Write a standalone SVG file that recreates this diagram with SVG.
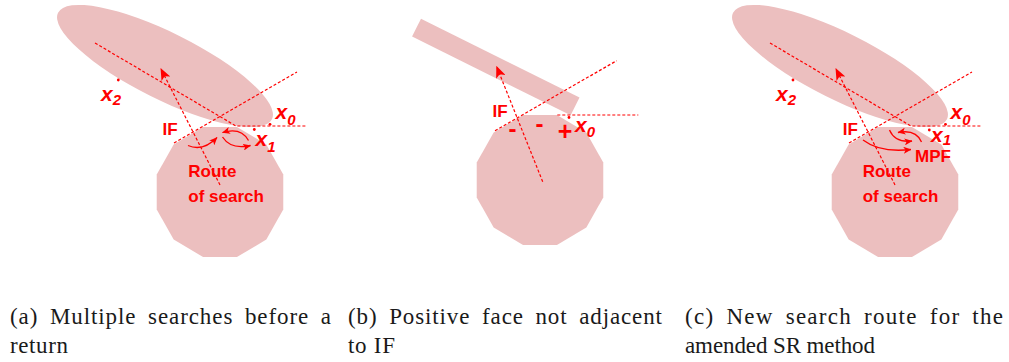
<svg xmlns="http://www.w3.org/2000/svg" width="1009" height="362" viewBox="0 0 1009 362">
<style>
.shape{fill:#ecbfbf}
.dash{fill:none;stroke:#ff0000;stroke-width:1.2;stroke-dasharray:3 2}
.curve{fill:none;stroke:#ff0000;stroke-width:1.3}
.lbl{font-family:"Liberation Sans",Arial,sans-serif;font-weight:bold;fill:#ff0000;font-size:17px}
.var{font-family:"Liberation Sans",Arial,sans-serif;font-weight:bold;font-style:italic;fill:#ff0000;font-size:21px}
.sub{font-size:15px}
.pt{fill:#ff0000}
.cap{font-family:"Liberation Serif","Times New Roman",serif;font-size:23px;fill:#1a1a1a}
.just{word-spacing:5px}
</style>
<defs>
<polygon id="dodeca" points="63.27,17.42 46.32,47.59 16.95,65 -16.95,65 -46.32,47.59 -63.27,17.42 -63.27,-17.42 -46.32,-47.59 -16.95,-65 16.95,-65 46.32,-47.59 63.27,-17.42"/>
<marker id="bigHead" viewBox="0 0 12 10" refX="11" refY="5" markerWidth="12" markerHeight="10" markerUnits="userSpaceOnUse" orient="auto">
<path d="M0,0 L12,5 L0,10 L3,5 Z" fill="#ff0000"/>
</marker>
<marker id="smallHead" viewBox="0 0 8 7" refX="7.5" refY="3.5" markerWidth="8" markerHeight="7" markerUnits="userSpaceOnUse" orient="auto">
<path d="M0,0 L8,3.5 L0,7 L2,3.5 Z" fill="#ff0000"/>
</marker>
</defs>

<!-- Panel (a) -->
<g id="a-ellipse"><ellipse class="shape" cx="165" cy="66" rx="119.5" ry="33.3" transform="rotate(26.5 165 66)"/></g>
<g id="a-polygon"><use href="#dodeca" class="shape" x="220" y="192"/></g>

<!-- Panel (b) -->
<g id="b-rect"><rect class="shape" x="-88.5" y="-10" width="177" height="20" transform="translate(495.8,67) rotate(26.4)"/></g>
<g id="b-polygon"><use href="#dodeca" class="shape" x="540" y="180"/></g>

<!-- Panel (c) -->
<g id="c-ellipse"><ellipse class="shape" cx="840" cy="66" rx="119.5" ry="33.3" transform="rotate(26.5 840 66)"/></g>
<g id="c-polygon"><use href="#dodeca" class="shape" x="895" y="192"/></g>

<g id="connectors">
<!-- a -->
<polyline class="dash" points="95,43 236,126 307,126"/>
<line class="dash" x1="174" y1="143" x2="297" y2="72"/>
<line class="dash" x1="220" y1="185" x2="161" y2="69" marker-end="url(#bigHead)"/>
<path class="curve" d="M188,145.5 Q203,152 217,137.5" marker-end="url(#smallHead)"/>
<path class="curve" d="M248.5,140.5 Q241,127 222.5,132.5" marker-end="url(#smallHead)"/>
<path class="curve" d="M222.5,137 Q231,150 250.5,145.5" marker-end="url(#smallHead)"/>
<!-- b -->
<line class="dash" x1="495" y1="130.7" x2="616.7" y2="60.7"/>
<line class="dash" x1="557.3" y1="115" x2="638.3" y2="115"/>
<line class="dash" x1="542.7" y1="181.7" x2="496.7" y2="66.7" marker-end="url(#bigHead)"/>
<!-- c -->
<polyline class="dash" points="770,43 911,126 982,126"/>
<line class="dash" x1="849" y1="143" x2="972" y2="72"/>
<line class="dash" x1="895" y1="185" x2="836" y2="69" marker-end="url(#bigHead)"/>
<path class="curve" d="M863,140 Q880,153 911,149.5" marker-end="url(#smallHead)"/>
<path class="curve" d="M921.5,142 Q916,129 898,132.5" marker-end="url(#smallHead)"/>
<path class="curve" d="M889.5,130 Q895,143 912,141" marker-end="url(#smallHead)"/>
</g>

<!-- Labels panel (a) -->
<g id="a-x2"><circle class="pt" cx="118.3" cy="80" r="1.4"/><text class="var" x="101" y="100.5">x<tspan class="sub" dy="4">2</tspan></text></g>
<g id="a-x0"><circle class="pt" cx="270" cy="124.3" r="1.4"/><text class="var" x="275.5" y="119">x<tspan class="sub" dy="6">0</tspan></text></g>
<g id="a-x1"><circle class="pt" cx="254.3" cy="129.5" r="1.4"/><text class="var" x="255.5" y="146">x<tspan class="sub" dy="5.5">1</tspan></text></g>
<g id="a-IF"><text class="lbl" x="162.5" y="134.5">IF</text></g>
<g id="a-route"><text class="lbl" x="188.3" y="176.5">Route</text><text class="lbl" x="188.3" y="201.5">of search</text></g>

<!-- Labels panel (b) -->
<g id="b-IF"><text class="lbl" x="492.5" y="117">IF</text></g>
<g id="b-signs">
<text class="lbl" x="512.5" y="136.5" text-anchor="middle" style="font-size:24px">-</text>
<text class="lbl" x="539.5" y="131.5" text-anchor="middle" style="font-size:24px">-</text>
<text class="lbl" x="565" y="139.5" text-anchor="middle" style="font-size:25px">+</text>
</g>
<g id="b-x0"><circle class="pt" cx="569" cy="117.5" r="1.4"/><text class="var" x="575" y="132">x<tspan class="sub" dy="5">0</tspan></text></g>

<!-- Labels panel (c) -->
<g id="c-x2"><circle class="pt" cx="793" cy="80" r="1.4"/><text class="var" x="776" y="100.5">x<tspan class="sub" dy="4">2</tspan></text></g>
<g id="c-x0"><circle class="pt" cx="945.5" cy="124.3" r="1.4"/><text class="var" x="950.5" y="119">x<tspan class="sub" dy="6">0</tspan></text></g>
<g id="c-x1"><circle class="pt" cx="929.3" cy="130" r="1.4"/><text class="var" x="931" y="141.5">x<tspan class="sub" dy="3.5">1</tspan></text></g>
<g id="c-IF"><text class="lbl" x="842.7" y="134.5">IF</text></g>
<g id="c-MPF"><text class="lbl" x="915" y="162">MPF</text></g>
<g id="c-route"><text class="lbl" x="862.7" y="177">Route</text><text class="lbl" x="862.7" y="201.5">of search</text></g>

<!-- Captions -->
<g id="captions">
<text class="cap just" x="10" y="324" textLength="321" lengthAdjust="spacing">(a) Multiple searches before a</text>
<text class="cap" x="10" y="353" textLength="58" lengthAdjust="spacing">return</text>
<text class="cap just" x="348" y="324" textLength="314" lengthAdjust="spacing">(b) Positive face not adjacent</text>
<text class="cap" x="348" y="353" textLength="47" lengthAdjust="spacing">to IF</text>
<text class="cap just" x="685" y="324" textLength="318" lengthAdjust="spacing">(c) New search route for the</text>
<text class="cap" x="685" y="353" textLength="190" lengthAdjust="spacing">amended SR method</text>
</g>
</svg>
